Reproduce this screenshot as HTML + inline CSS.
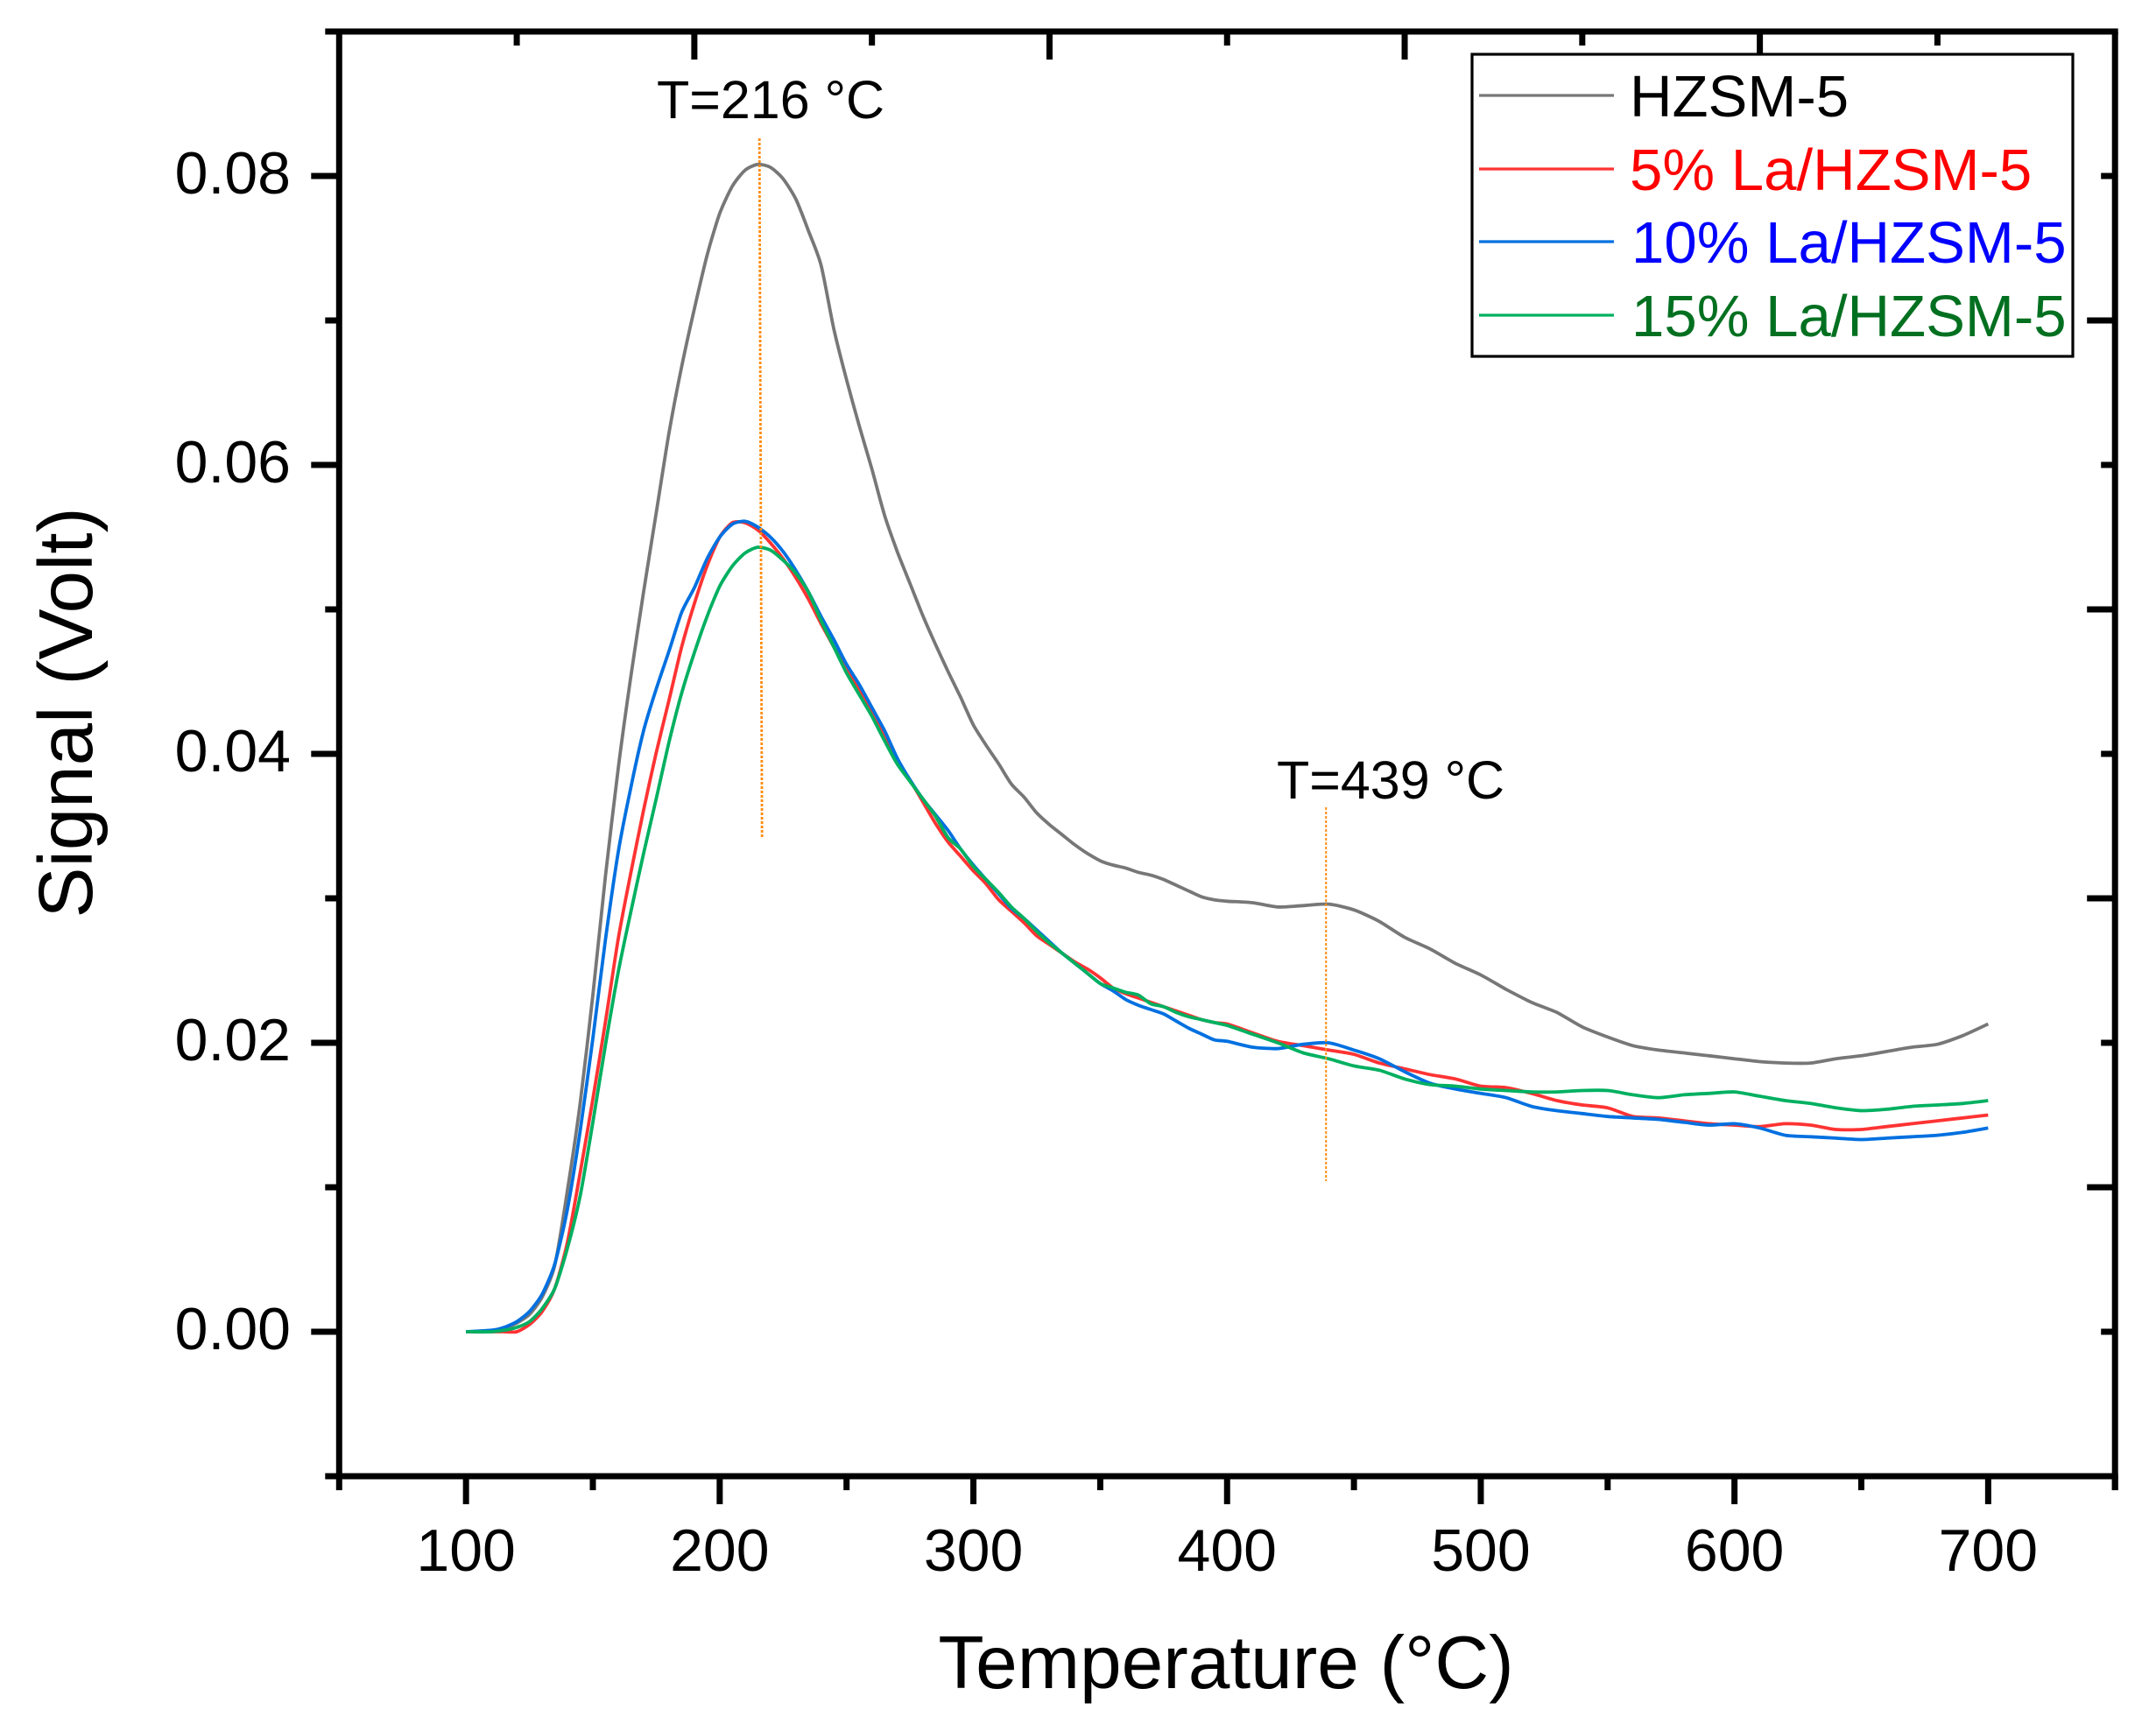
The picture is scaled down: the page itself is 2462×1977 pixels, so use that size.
<!DOCTYPE html>
<html lang="en">
<head>
<meta charset="utf-8">
<title>Signal vs Temperature</title>
<style>
html,body{margin:0;padding:0;background:#fff;}
svg{display:block;font-family:"Liberation Sans",Arial,sans-serif;}
</style>
</head>
<body>
<svg id="chart" xmlns="http://www.w3.org/2000/svg" width="2462" height="1977" viewBox="0 0 2462 1977">
<rect x="0" y="0" width="2462" height="1977" fill="#ffffff"/>
<g id="series-layer"></g>
<g id="marker-layer"></g>
<g id="axis-layer"></g>
<text x="1400" y="1928" font-size="85.6" text-anchor="middle" fill="#000">Temperature (°C)</text>
<text transform="translate(105,814) rotate(-90)" font-size="87" text-anchor="middle" fill="#000">Signal (Volt)</text>
<text x="750" y="135" font-size="61" fill="#000">T=216 °C</text>
<text x="1458" y="912" font-size="61" fill="#000">T=439 °C</text>
<g>
<rect x="1681" y="62" width="686" height="345" fill="#fff" stroke="#000" stroke-width="3.2"/>
<line x1="1689" x2="1843" y1="109" y2="109" stroke="#777777" stroke-width="3.2"/>
<line x1="1689" x2="1843" y1="193" y2="193" stroke="#ff3333" stroke-width="3.2"/>
<line x1="1689" x2="1843" y1="276" y2="276" stroke="#0070e0" stroke-width="3.2"/>
<line x1="1689" x2="1843" y1="360" y2="360" stroke="#00b060" stroke-width="3.2"/>
<text x="1861" y="133" font-size="67.2" fill="#000000">HZSM-5</text>
<text x="1861" y="217" font-size="67.2" fill="#ff0000">5% La/HZSM-5</text>
<text x="1863" y="300" font-size="67.2" fill="#0000ff">10% La/HZSM-5</text>
<text x="1863" y="384" font-size="67.2" fill="#007020">15% La/HZSM-5</text>
</g>
</svg>
<script>
const temps = [100,110,115,120,125,130,135,140,145,150,155,160,165,170,175,180,185,190,195,200,205,210,215,220,225,230,235,240,245,250,255,260,265,270,275,280,285,290,295,300,305,310,315,320,325,330,335,340,345,350,355,360,365,370,375,380,385,390,395,400,410,420,430,440,450,460,470,480,490,500,510,520,530,540,550,560,570,580,590,600,610,620,630,640,650,660,670,680,690,700];
const hzsm5 = [0,0,.0002,.0006,.0012,.0024,.0046,.0098,.0158,.0233,.0316,.039,.0454,.0512,.0567,.0622,.0668,.0708,.0745,.0774,.0793,.0804,.0808,.0806,.0798,.0784,.0762,.0738,.0694,.0659,.0627,.0597,.0565,.054,.0518,.0496,.0476,.0457,.0439,.042,.0406,.0393,.0379,.037,.0359,.0351,.0344,.0337,.0331,.0326,.0323,.0321,.0318,.0316,.0313,.0309,.0305,.0301,.0299,.0298,.0297,.0294,.0295,.0296,.0292,.0284,.0273,.0265,.0255,.0247,.0237,.0228,.0221,.0211,.0204,.0198,.0195,.0193,.0191,.0189,.0187,.0186,.0186,.0189,.0191,.0194,.0197,.0199,.0205,.0213];
const la5 = [0,0,0,0,.0005,.0014,.003,.0062,.011,.0161,.0215,.0272,.0318,.0361,.0401,.0437,.0474,.0504,.053,.055,.056,.056,.0555,.0546,.0535,.0522,.0507,.049,.0474,.0458,.0444,.0428,.0413,.0396,.0382,.0367,.0352,.0339,.0329,.0319,.031,.0299,.0291,.0283,.0274,.0268,.0262,.0256,.0251,.0245,.0238,.0234,.0231,.0228,.0225,.0222,.0219,.0216,.0214,.0213,.0207,.0201,.0198,.0195,.0192,.0186,.0182,.0178,.0175,.017,.0169,.0165,.016,.0157,.0155,.0149,.0148,.0146,.0144,.0143,.0142,.0144,.0143,.014,.014,.0142,.0144,.0146,.0148,.015];
const la10 = [0,.0001,.0003,.0007,.0014,.0026,.0047,.0085,.0139,.0203,.0272,.0332,.0377,.0416,.0445,.0471,.0498,.0515,.0535,.055,.0559,.0561,.0557,.055,.054,.0527,.0512,.0495,.0479,.0462,.0448,.0432,.0416,.0397,.0382,.0369,.0358,.0347,.0334,.0323,.0313,.0303,.0293,.0286,.0278,.027,.0262,.0255,.0248,.0241,.0236,.023,.0226,.0223,.022,.0215,.021,.0206,.0202,.0201,.0197,.0196,.0199,.02,.0195,.0189,.018,.0172,.0168,.0165,.0162,.0156,.0153,.0151,.0149,.0148,.0147,.0145,.0143,.0144,.0141,.0136,.0135,.0134,.0133,.0134,.0135,.0136,.0138,.0141];
const la15 = [0,0,.0001,.0003,.0007,.0016,.003,.0058,.0094,.0145,.0199,.0249,.0291,.0331,.0369,.0408,.0442,.047,.0495,.0516,.053,.0539,.0543,.0541,.0534,.0525,.0512,.0492,.0474,.0456,.0441,.0426,.0409,.0393,.0381,.0369,.0357,.0342,.0334,.0322,.0313,.0304,.0294,.0286,.0277,.0269,.0262,.0255,.0248,.0241,.0238,.0235,.0233,.0227,.0225,.0221,.0218,.0216,.0214,.0212,.0206,.02,.0193,.0189,.0184,.0181,.0175,.0171,.017,.0168,.0167,.0166,.0166,.0167,.0167,.0164,.0162,.0164,.0165,.0166,.0163,.016,.0158,.0155,.0153,.0154,.0156,.0157,.0158,.016];
const xTickValues = [100,200,300,400,500,600,700];
const xTickLabels = ["100","200","300","400","500","600","700"];
const yTickValues = [0,0.02,0.04,0.06,0.08];
const yTickLabels = ["0.00","0.02","0.04","0.06","0.08"];
const peakTemps = [216,439];

const SVGNS = "http://www.w3.org/2000/svg";
const X0 = 387.3, XS = 2.897, Y0 = 1521, YS = 16500;
function xScale(t){ return X0 + (t - 50) * XS; }
function yScale(v){ return Y0 - v * YS; }
function mk(tag, parent, attrs){
  const el = document.createElementNS(SVGNS, tag);
  for (const k in attrs) el.setAttribute(k, attrs[k]);
  parent.appendChild(el);
  return el;
}
const seriesLayer = document.getElementById("series-layer");
const markerLayer = document.getElementById("marker-layer");
const axisLayer = document.getElementById("axis-layer");

function smoothPath(values){
  const pts = values.map((v, i) => [xScale(temps[i]), yScale(v)]);
  let d = "M" + pts[0][0].toFixed(1) + " " + pts[0][1].toFixed(1);
  for (let i = 0; i < pts.length - 1; i++){
    const p0 = pts[Math.max(i - 1, 0)], p1 = pts[i], p2 = pts[i + 1], p3 = pts[Math.min(i + 2, pts.length - 1)];
    const k = 0.12;
    const c1x = p1[0] + (p2[0] - p0[0]) * k, c1y = p1[1] + (p2[1] - p0[1]) * k;
    const c2x = p2[0] - (p3[0] - p1[0]) * k, c2y = p2[1] - (p3[1] - p1[1]) * k;
    d += " C" + c1x.toFixed(1) + " " + c1y.toFixed(1) + " " + c2x.toFixed(1) + " " + c2y.toFixed(1) + " " + p2[0].toFixed(1) + " " + p2[1].toFixed(1);
  }
  return d;
}
function drawSeries(values, color, name){
  const p = mk("path", seriesLayer, {d: smoothPath(values), fill: "none", stroke: color, "stroke-width": 3.8, "stroke-linejoin": "round"});
  
  
}
drawSeries(hzsm5, "#777777", "series-hzsm5");
drawSeries(la5, "#ff3333", "series-5la");
drawSeries(la10, "#0070e0", "series-10la");
drawSeries(la15, "#00b060", "series-15la");

const m1 = mk("line", markerLayer, {x1: xScale(peakTemps[0]) - 1, x2: xScale(peakTemps[0]) + 2, y1: 158, y2: 958, stroke: "#ff8c10", "stroke-width": 2.8, "stroke-dasharray": "3 2"});


const m2 = mk("line", markerLayer, {x1: xScale(peakTemps[1]), x2: xScale(peakTemps[1]), y1: 922, y2: 1349, stroke: "#ff8c10", "stroke-width": 2, "stroke-dasharray": "3 2"});



const L = xScale(50), R = xScale(750), T = yScale(0.09), B = yScale(-0.01);
const AW = 7, MAJ = 32, MIN = 16;
function tick(x1, y1, x2, y2, name){
  const l = mk("line", axisLayer, {x1: x1, y1: y1, x2: x2, y2: y2, stroke: "#000", "stroke-width": AW});
  
  
}
// frame
tick(L - MIN, T, R + AW / 2, T, "top-axis");
tick(L - MIN, B, R + AW / 2, B, "bottom-axis");
tick(L, T, L, B + MIN, "left-axis");
tick(R, T, R, B + MIN, "right-axis");
// bottom ticks
for (let t = 100; t <= 750; t += 50){
  const major = xTickValues.includes(t);
  tick(xScale(t), B, xScale(t), B + (major ? MAJ : MIN), "x-tick");
}
// left ticks
for (let k = 0; k <= 8; k++){
  const v = k / 100;
  const major = k % 2 === 0;
  tick(L - (major ? MAJ : MIN), yScale(v), L, yScale(v), "y-tick");
}
// right ticks (opposite axis, major on odd hundredths)
for (let k = 0; k <= 8; k++){
  const v = k / 100;
  const major = k % 2 === 1;
  tick(R - (major ? MAJ : MIN), yScale(v), R, yScale(v), "right-tick");
}
// top ticks (opposite axis has ten equal divisions)
for (let k = 1; k < 10; k++){
  const x = L + (R - L) * k / 10;
  tick(x, T, x, T + (k % 2 === 0 ? MAJ : MIN), "top-tick");
}
xTickValues.forEach((t, i) => {
  const el = mk("text", axisLayer, {x: xScale(t), y: 1794, "font-size": 68, "text-anchor": "middle", fill: "#000"});
  el.textContent = xTickLabels[i];
  
  
});
yTickValues.forEach((v, i) => {
  const el = mk("text", axisLayer, {x: 332, y: yScale(v) + 20, "font-size": 68, "text-anchor": "end", fill: "#000"});
  el.textContent = yTickLabels[i];
  
  
});
</script>
</body>
</html>
